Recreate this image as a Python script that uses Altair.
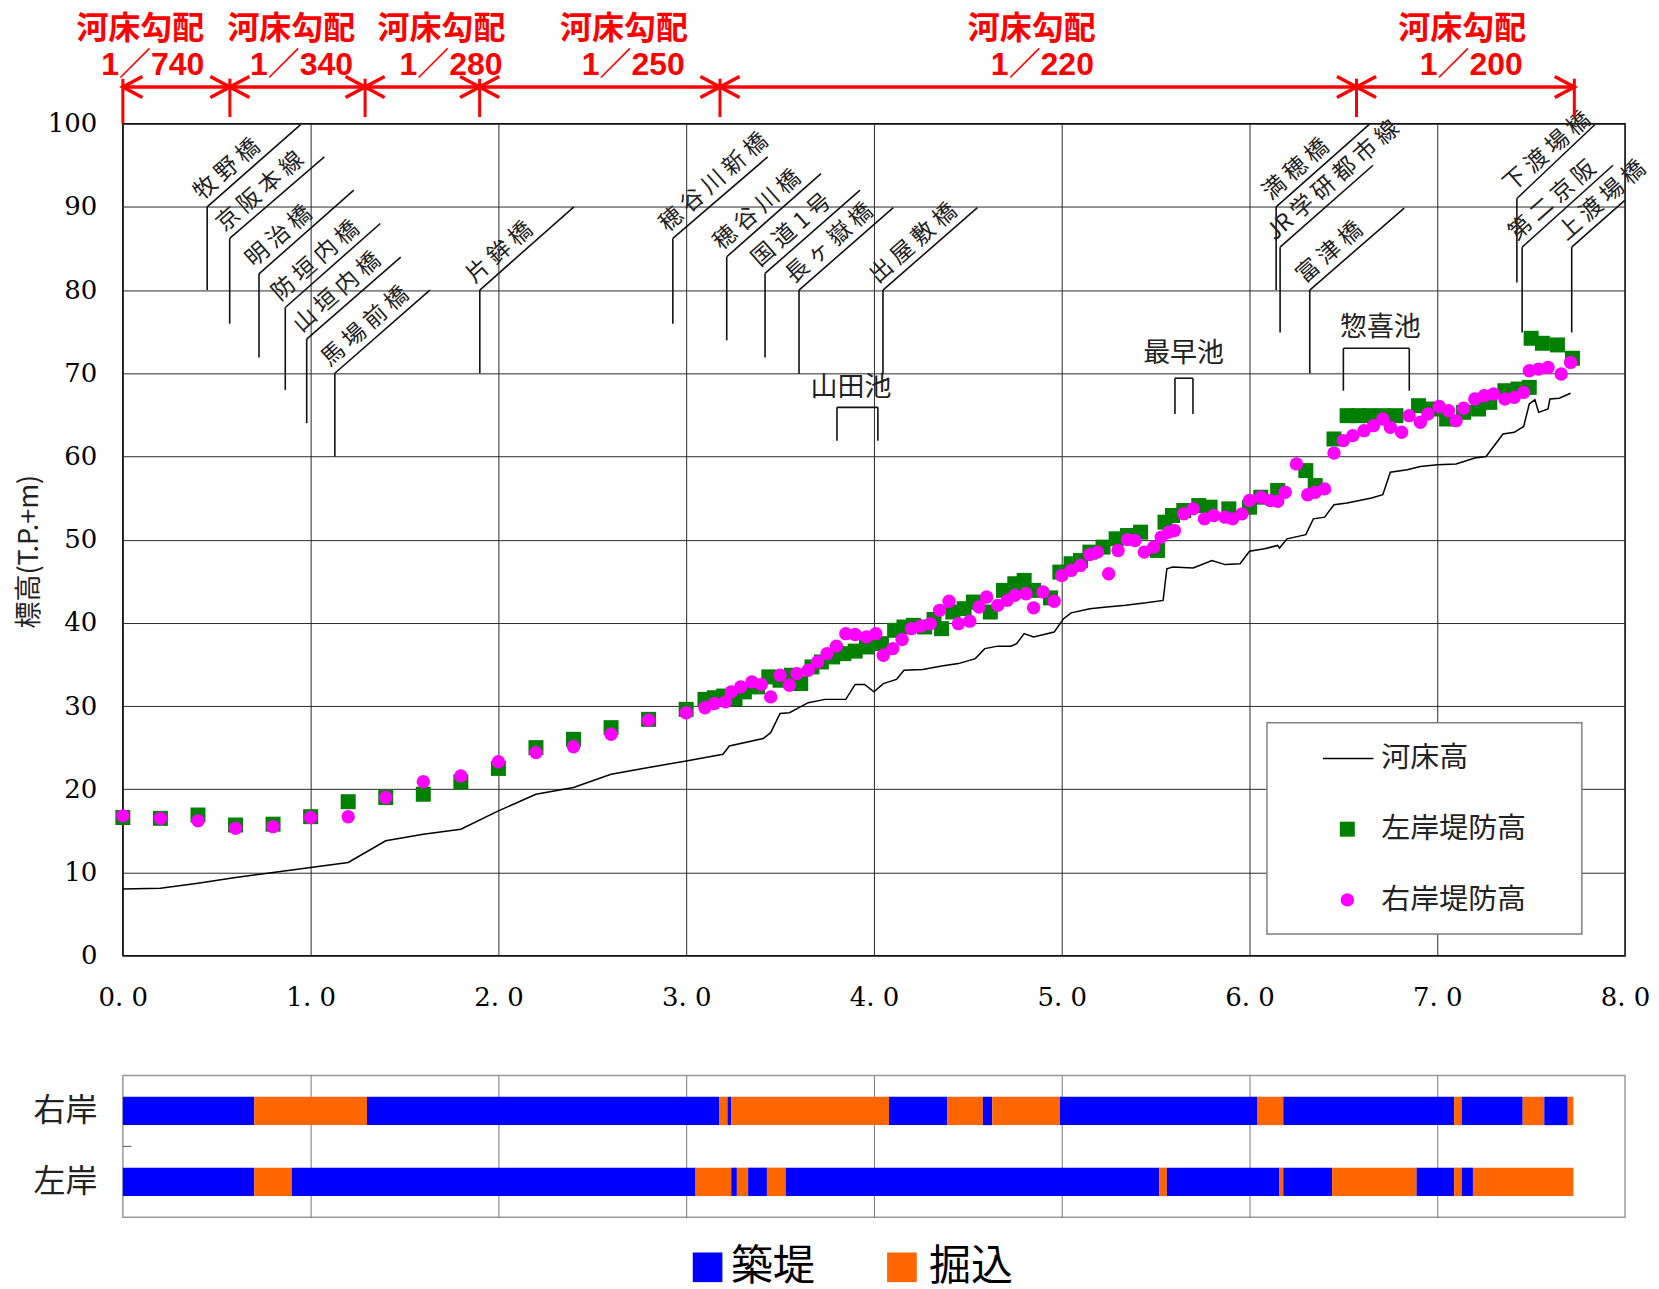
import altair as alt
import pandas as pd

# ---------------- data ----------------
bed_km = [0.0, 0.2, 0.4, 0.6, 0.8, 1.0, 1.2, 1.4, 1.6, 1.8, 2.0, 2.2, 2.4, 2.6, 2.8, 3.0,
          3.196, 3.23, 3.41, 3.45, 3.50, 3.55, 3.65, 3.74, 3.85, 3.90, 3.95, 4.0, 4.05, 4.12,
          4.16, 4.26, 4.36, 4.45, 4.54, 4.59, 4.66, 4.73, 4.76, 4.80, 4.85, 4.96, 5.01, 5.05,
          5.15, 5.24, 5.34, 5.45, 5.54, 5.56, 5.59, 5.70, 5.80, 5.87, 5.95, 6.0, 6.08, 6.15,
          6.16, 6.20, 6.30, 6.34, 6.40, 6.45, 6.52, 6.65, 6.71, 6.75, 6.84, 6.91, 7.0, 7.10,
          7.20, 7.26, 7.35, 7.41, 7.46, 7.49, 7.52, 7.54, 7.59, 7.60, 7.65, 7.71]
bed_el = [8.0, 8.1, 8.7, 9.4, 10.0, 10.6, 11.2, 13.8, 14.6, 15.2, 17.4, 19.4, 20.2, 21.8, 22.6, 23.4,
          24.2, 25.2, 26.1, 26.8, 29.1, 29.2, 30.4, 30.8, 30.8, 32.6, 32.6, 31.7, 32.7, 33.2,
          34.3, 34.4, 34.8, 35.1, 35.7, 36.9, 37.2, 37.2, 37.5, 38.7, 38.3, 38.9, 40.5, 41.2,
          41.7, 41.9, 42.1, 42.4, 42.7, 46.5, 46.7, 46.6, 47.5, 47.0, 47.1, 48.6, 48.9, 49.3,
          49.0, 50.1, 50.6, 52.5, 52.7, 54.2, 54.4, 55.0, 55.4, 58.1, 58.4, 58.8, 59.0, 59.1,
          59.8, 60.0, 62.7, 62.9, 63.6, 66.3, 66.8, 65.3, 65.7, 66.9, 67.0, 67.6]

left_km = [0.0, 0.2, 0.4, 0.6, 0.8, 1.0, 1.2, 1.4, 1.6, 1.8, 2.0, 2.2, 2.4, 2.6, 2.8, 3.0,
           3.10, 3.15, 3.20, 3.26, 3.31, 3.38, 3.44, 3.50, 3.56, 3.61, 3.67, 3.72, 3.78, 3.84,
           3.90, 3.96, 4.04, 4.11, 4.16, 4.21, 4.27, 4.32, 4.36, 4.42, 4.48, 4.53, 4.62, 4.69,
           4.75, 4.80, 4.85, 4.94, 4.99, 5.05, 5.10, 5.15, 5.22, 5.29, 5.35, 5.42, 5.51, 5.55,
           5.59, 5.65, 5.73, 5.79, 5.89, 6.00, 6.06, 6.15, 6.30, 6.35, 6.45, 6.52, 6.58, 6.64,
           6.71, 6.78, 6.90, 6.98, 7.05, 7.14, 7.22, 7.28, 7.36, 7.43, 7.49, 7.50, 7.56, 7.64, 7.72]
left_el = [16.6, 16.5, 16.9, 15.7, 15.8, 16.7, 18.5, 19.0, 19.4, 20.9, 22.5, 25.0, 26.0, 27.4, 28.4, 29.6,
           30.8, 31.0, 31.2, 30.9, 31.7, 32.3, 33.5, 33.1, 33.7, 32.7, 34.7, 35.3, 35.9, 36.3,
           36.6, 37.1, 37.5, 39.1, 39.5, 39.7, 39.5, 40.4, 39.3, 41.3, 41.7, 42.5, 41.3, 43.9,
           44.7, 45.1, 43.9, 43.0, 46.1, 47.1, 47.5, 48.5, 49.1, 50.1, 50.5, 50.9, 48.7, 52.1,
           52.9, 53.5, 54.1, 53.9, 53.7, 53.9, 55.1, 55.9, 58.3, 56.5, 62.1, 64.9, 64.9, 64.9,
           64.9, 64.9, 66.1, 65.7, 64.5, 65.3, 65.7, 66.5, 67.9, 68.1, 68.3, 74.2, 73.6, 73.4, 71.8]

right_km = [0.0, 0.2, 0.4, 0.6, 0.8, 1.0, 1.2, 1.4, 1.6, 1.8, 2.0, 2.2, 2.4, 2.6, 2.8, 3.0,
            3.10, 3.15, 3.21, 3.24, 3.29, 3.35, 3.40, 3.45, 3.50, 3.55, 3.59, 3.65, 3.70, 3.75,
            3.80, 3.85, 3.90, 3.96, 4.01, 4.05, 4.10, 4.15, 4.20, 4.25, 4.30, 4.35, 4.40, 4.45,
            4.51, 4.56, 4.60, 4.66, 4.71, 4.75, 4.81, 4.85, 4.90, 4.96, 5.00, 5.05, 5.10, 5.15,
            5.19, 5.25, 5.30, 5.35, 5.39, 5.44, 5.49, 5.53, 5.57, 5.60, 5.65, 5.70, 5.76, 5.81,
            5.87, 5.91, 5.96, 6.00, 6.06, 6.11, 6.15, 6.19, 6.25, 6.31, 6.35, 6.40, 6.45, 6.50,
            6.55, 6.61, 6.66, 6.71, 6.75, 6.81, 6.85, 6.91, 6.95, 7.01, 7.06, 7.10, 7.14, 7.20,
            7.25, 7.30, 7.36, 7.41, 7.46, 7.49, 7.54, 7.59, 7.66, 7.71]
right_el = [16.8, 16.5, 16.2, 15.3, 15.5, 16.6, 16.7, 19.0, 20.9, 21.6, 23.3, 24.4, 25.1, 26.6, 28.3, 29.2,
            29.8, 30.3, 30.5, 31.7, 32.3, 32.9, 32.6, 31.1, 33.7, 32.5, 33.9, 34.3, 35.3, 36.3,
            37.2, 38.7, 38.6, 38.3, 38.7, 36.1, 36.9, 38.0, 39.3, 39.6, 39.9, 41.5, 42.6, 39.9,
            40.2, 41.9, 43.1, 42.1, 42.7, 43.3, 43.5, 41.8, 43.7, 42.6, 45.7, 46.3, 46.9, 48.2,
            48.5, 45.9, 48.7, 50.0, 49.9, 48.5, 49.1, 50.3, 50.9, 51.1, 53.1, 53.7, 52.5, 52.9,
            52.7, 52.5, 53.1, 54.7, 55.1, 54.7, 54.6, 55.7, 59.1, 55.4, 55.7, 56.1, 60.4, 61.9,
            62.5, 63.1, 63.7, 64.5, 63.5, 62.9, 64.9, 64.1, 65.1, 66.0, 65.5, 64.3, 65.8, 66.9,
            67.3, 67.5, 66.9, 67.1, 67.7, 70.3, 70.5, 70.7, 69.9, 71.3]

bridge_names = ["牧野橋", "京阪本線", "明治橋", "防垣内橋", "山垣内橋", "馬場前橋", "片鉾橋",
                "穂谷川新橋", "穂谷川橋", "国道1号", "長ヶ嶽橋", "出屋敷橋",
                "満穂橋", "JR学研都市線", "富津橋", "下渡場橋", "第二京阪", "上渡場橋"]
bridge_km = [0.449, 0.569, 0.725, 0.865, 0.979, 1.129, 1.901, 2.929, 3.216, 3.420, 3.601, 4.048,
             6.142, 6.163, 6.321, 7.424, 7.452, 7.716]
bridge_foot = [80.0, 75.95, 71.9, 68.0, 64.0, 60.0, 70.0, 75.95, 73.95, 71.9, 69.95, 69.95,
               80.0, 74.9, 70.0, 80.9, 74.9, 74.9]
bridge_knee = [90.0, 86.2, 81.95, 77.9, 74.1, 70.0, 80.0, 86.2, 84.0, 82.0, 80.0, 80.0,
               90.0, 85.15, 80.0, 91.0, 85.15, 85.15]
bridge_tip_km = [0.948, 1.073, 1.230, 1.371, 1.480, 1.635, 2.402, 3.434, 3.718, 3.926, 4.103, 4.551,
                 6.638, 6.658, 6.824, 7.84, 7.936, 8.0]
bridge_tip_el = [99.9, 96.0, 92.0, 88.0, 83.95, 80.0, 90.0, 96.0, 94.0, 92.0, 89.9, 89.9,
                 99.9, 95.0, 89.85, 99.9, 95.0, 90.8]

pond_names = ["山田池", "最早池", "惣喜池"]
pond_x1 = [3.803, 5.603, 6.500]
pond_x2 = [4.021, 5.699, 6.851]
pond_top = [65.9, 69.4, 73.0]
pond_bottom = [61.9, 65.1, 67.9]
pond_label_km = [3.878, 5.649, 6.697]
pond_label_el = [68.2, 72.3, 75.4]

grad_bounds = [0.0, 0.57, 1.29, 1.90, 3.18, 6.57, 7.73]
grad_title = "河床勾配"
grad_ratio = ["1／740", "1／340", "1／280", "1／250", "1／220", "1／200"]
grad_title_km = [0.093, 0.897, 1.697, 2.669, 4.840, 7.133]
grad_ratio_km = [0.159, 0.952, 1.748, 2.718, 4.897, 7.181]

legend_labels = ["河床高", "左岸堤防高", "右岸堤防高"]

bank_labels = ["右岸", "左岸"]
bank_end = 7.725
right_bank_breaks = [0.0, 0.70, 1.30, 3.175, 3.22, 3.24, 4.08, 4.39, 4.58, 4.63, 4.99, 6.04,
                     6.18, 7.09, 7.13, 7.455, 7.57, 7.695]
left_bank_breaks = [0.0, 0.70, 0.90, 3.05, 3.24, 3.27, 3.33, 3.43, 3.53, 5.52, 5.56, 6.16,
                    6.18, 6.44, 6.89, 7.09, 7.13, 7.19]
levee_types = ["築堤", "掘込"]
levee_colors = ["#0000FF", "#FF6600"]

# ---------------- styling ----------------
CJK = "Noto Sans CJK JP"
SERIF = "DejaVu Serif"
TXT = "#222222"


def spaced(s):
    out = ""
    for i, ch in enumerate(s):
        if i > 0 and not (ch.isascii() and s[i - 1].isascii()):
            out += " "
        out += ch
    return out


XS = alt.Scale(domain=[0, 8], nice=False, zero=False)
YS = alt.Scale(domain=[0, 100], nice=False, zero=False)

x_axis = alt.Axis(values=list(range(9)),
                  labelExpr="replace(format(datum.value, '.1f'), '.', '. ')",
                  labelFont=SERIF, labelFontSize=26, labelColor="black", labelPadding=29,
                  labelFlush=False, labelOverlap=False, ticks=False, domain=False,
                  grid=True, gridColor="#2a2a2a", gridWidth=1, gridOpacity=1, title=None)
y_axis = alt.Axis(values=list(range(0, 101, 10)), labelFont=SERIF, labelFontSize=26,
                  labelColor="black", labelPadding=26, labelFlush=False, labelOverlap=False,
                  ticks=False, domain=False, grid=True, gridColor="#2a2a2a", gridWidth=1,
                  gridOpacity=1, title="標高(T.P.+m)", titleFont=CJK, titleFontSize=27,
                  titleFontWeight="normal", titleColor=TXT, titleAngle=270,
                  titleAlign="center", titleBaseline="middle", titleX=-93, titleY=428)


def X(f):
    return alt.X(f"{f}:Q", scale=XS, axis=x_axis)


def Y(f):
    return alt.Y(f"{f}:Q", scale=YS, axis=y_axis)


# ---------------- main panel ----------------
bed = alt.Chart(pd.DataFrame({"km": bed_km, "el": bed_el})).mark_line(
    color="black", strokeWidth=1.5).encode(x=X("km"), y=Y("el"))

left = alt.Chart(pd.DataFrame({"km": left_km, "el": left_el})).mark_square(
    size=225, color="#008000", opacity=1).encode(x=X("km"), y=Y("el"))

right = alt.Chart(pd.DataFrame({"km": right_km, "el": right_el})).mark_circle(
    size=180, color="#FF00FF", opacity=1).encode(x=X("km"), y=Y("el"))

bdf = pd.DataFrame({"name": bridge_names, "label": [spaced(n) for n in bridge_names],
                    "km": bridge_km, "foot": bridge_foot, "knee": bridge_knee,
                    "tkm": bridge_tip_km, "tel": bridge_tip_el})
b_vert = alt.Chart(bdf).mark_rule(color="#111111", strokeWidth=1.6).encode(
    x=X("km"), y=Y("foot"), y2=alt.Y2("knee"))
b_diag = alt.Chart(bdf).mark_rule(color="#111111", strokeWidth=1.6).encode(
    x=X("km"), y=Y("knee"), x2=alt.X2("tkm"), y2=alt.Y2("tel"))
b_text = alt.Chart(bdf).mark_text(align="left", baseline="bottom", angle=318.6, dy=-3,
                                  font=CJK, fontSize=23, color=TXT).encode(
    x=X("km"), y=Y("knee"), text="label:N")

pdf = pd.DataFrame({"name": pond_names, "x1": pond_x1, "x2": pond_x2, "top": pond_top,
                    "bottom": pond_bottom, "lx": pond_label_km, "ly": pond_label_el})
p_top = alt.Chart(pdf).mark_rule(color="#111111", strokeWidth=1.6).encode(
    x=X("x1"), x2=alt.X2("x2"), y=Y("top"))
p_leg1 = alt.Chart(pdf).mark_rule(color="#111111", strokeWidth=1.6).encode(
    x=X("x1"), y=Y("bottom"), y2=alt.Y2("top"))
p_leg2 = alt.Chart(pdf).mark_rule(color="#111111", strokeWidth=1.6).encode(
    x=X("x2"), y=Y("bottom"), y2=alt.Y2("top"))
p_text = alt.Chart(pdf).mark_text(font=CJK, fontSize=27, color=TXT, align="center",
                                  baseline="middle").encode(x=X("lx"), y=Y("ly"), text="name:N")

# gradient annotation above the plot (elevation units beyond 100)
ARROW_EL, TICK_LO, TICK_HI, TITLE_EL, RATIO_EL = 104.4, 100.8, 105.4, 111.4, 107.1
g_line = alt.Chart(pd.DataFrame({"a": [grad_bounds[0]], "b": [grad_bounds[-1]],
                                 "y": [ARROW_EL]})).mark_rule(
    color="#FF0000", strokeWidth=3.5).encode(x=X("a"), x2=alt.X2("b"), y=Y("y"))
g_ticks = alt.Chart(pd.DataFrame({"km": grad_bounds,
                                  "lo": [100.0] + [TICK_LO] * (len(grad_bounds) - 1),
                                  "hi": [TICK_HI] * len(grad_bounds)})).mark_rule(
    color="#FF0000", strokeWidth=3).encode(x=X("km"), y=Y("lo"), y2=alt.Y2("hi"))
LEFT_HEAD = "M 1.4,-0.75 L 0,0 L 1.4,0.75"
RIGHT_HEAD = "M -1.4,-0.75 L 0,0 L -1.4,0.75"
g_head_l = alt.Chart(pd.DataFrame({"km": grad_bounds[:-1],
                                   "y": [ARROW_EL] * (len(grad_bounds) - 1)})).mark_point(
    shape=LEFT_HEAD, filled=False, size=784, color="#FF0000", strokeWidth=3.5,
    opacity=1).encode(x=X("km"), y=Y("y"))
g_head_r = alt.Chart(pd.DataFrame({"km": grad_bounds[1:],
                                   "y": [ARROW_EL] * (len(grad_bounds) - 1)})).mark_point(
    shape=RIGHT_HEAD, filled=False, size=784, color="#FF0000", strokeWidth=3.5,
    opacity=1).encode(x=X("km"), y=Y("y"))
g_title = alt.Chart(pd.DataFrame({"km": grad_title_km, "y": [TITLE_EL] * len(grad_title_km),
                                  "t": [grad_title] * len(grad_title_km)})).mark_text(
    font=CJK, fontSize=32, fontWeight="bold", color="#FF0000", align="center",
    baseline="middle").encode(x=X("km"), y=Y("y"), text="t:N")
g_ratio = alt.Chart(pd.DataFrame({"km": grad_ratio_km, "y": [RATIO_EL] * len(grad_ratio_km),
                                  "t": grad_ratio})).mark_text(
    font="Liberation Sans, Noto Sans CJK JP", fontSize=32, fontWeight="bold",
    color="#FF0000", align="center", baseline="middle").encode(
    x=X("km"), y=Y("y"), text="t:N")

# in-plot legend
leg_box = alt.Chart(pd.DataFrame({"a": [6.093], "b": [7.770], "lo": [2.6], "hi": [28.0]})).mark_rect(
    fill="white", stroke="#808080", strokeWidth=1.5).encode(
    x=X("a"), x2=alt.X2("b"), y=Y("lo"), y2=alt.Y2("hi"))
leg_line = alt.Chart(pd.DataFrame({"a": [6.391], "b": [6.660], "y": [23.7]})).mark_rule(
    color="black", strokeWidth=1.5).encode(x=X("a"), x2=alt.X2("b"), y=Y("y"))
leg_sq = alt.Chart(pd.DataFrame({"km": [6.521], "y": [15.2]})).mark_square(
    size=225, color="#008000", opacity=1).encode(x=X("km"), y=Y("y"))
leg_ci = alt.Chart(pd.DataFrame({"km": [6.521], "y": [6.7]})).mark_circle(
    size=180, color="#FF00FF", opacity=1).encode(x=X("km"), y=Y("y"))
leg_txt = alt.Chart(pd.DataFrame({"km": [6.702] * 3, "y": [23.7, 15.2, 6.7],
                                  "t": legend_labels})).mark_text(
    font=CJK, fontSize=29, color=TXT, align="left", baseline="middle").encode(
    x=X("km"), y=Y("y"), text="t:N")

main = alt.layer(bed, left, right, b_vert, b_diag, b_text, p_top, p_leg1, p_leg2, p_text,
                 g_line, g_ticks, g_head_l, g_head_r, g_title, g_ratio,
                 leg_box, leg_line, leg_sq, leg_ci, leg_txt).properties(
    width=1504, height=833, view=alt.ViewBackground(stroke="black", strokeWidth=1.5))

# ---------------- levee type panel ----------------
rows = []
for bank, breaks, yc in [("右岸", right_bank_breaks, 3), ("左岸", left_bank_breaks, 1)]:
    ends = breaks[1:] + [bank_end]
    for i, (s, e) in enumerate(zip(breaks, ends)):
        rows.append({"bank": bank, "start": s, "end": e, "type": levee_types[i % 2],
                     "lo": yc - 0.4, "hi": yc + 0.4})
bars_df = pd.DataFrame(rows)

YBS = alt.Scale(domain=[0, 4], nice=False, zero=False)
xb_axis = alt.Axis(values=list(range(1, 8)), labels=False, ticks=False, domain=False,
                   grid=True, gridColor="#777777", gridWidth=1, gridOpacity=1, title=None)
yb_axis = alt.Axis(values=[1, 3], labelExpr="datum.value == 3 ? '右岸' : '左岸'",
                   labelFont=CJK, labelFontSize=32, labelColor=TXT, labelPadding=26,
                   labelOverlap=False, labelFlush=False, ticks=False, domain=False,
                   grid=False, title=None)


def XB(f):
    return alt.X(f"{f}:Q", scale=XS, axis=xb_axis)


def YB(f):
    return alt.Y(f"{f}:Q", scale=YBS, axis=yb_axis)


color_enc = alt.Color("type:N", scale=alt.Scale(domain=levee_types, range=levee_colors),
                      legend=None)
bars = alt.Chart(bars_df).mark_bar(opacity=1).encode(
    x=XB("start"), x2=alt.X2("end"), y=YB("lo"), y2=alt.Y2("hi"), color=color_enc)
mid_tick = alt.Chart(pd.DataFrame({"a": [0.0], "b": [0.045], "y": [2.0]})).mark_rule(
    color="#555555", strokeWidth=1).encode(x=XB("a"), x2=alt.X2("b"), y=YB("y"))
sw_df = pd.DataFrame({"type": levee_types, "km": [3.114, 4.149], "tkm": [3.239, 4.293],
                      "y": [-1.41, -1.41]})
swatch = alt.Chart(sw_df).mark_square(size=880, opacity=1).encode(
    x=XB("km"), y=YB("y"), color=color_enc)
sw_text = alt.Chart(sw_df).mark_text(font=CJK, fontSize=42, color="black", align="left",
                                     baseline="middle").encode(
    x=XB("tkm"), y=YB("y"), text="type:N")

lower = alt.layer(bars, mid_tick, swatch, sw_text).properties(
    width=1504, height=142, view=alt.ViewBackground(stroke="#999999", strokeWidth=1.5))

chart = alt.vconcat(main, lower, spacing=120, bounds="flush").resolve_scale(
    x="independent", y="independent", color="independent").properties(
    padding={"left": 7, "top": 3, "right": 0, "bottom": 0})

chart.save("out.html", embed_options={"renderer": "svg", "actions": False})
